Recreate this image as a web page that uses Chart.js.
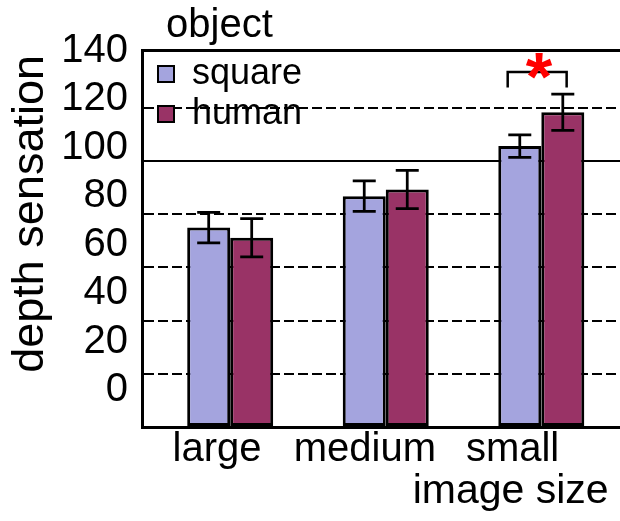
<!DOCTYPE html>
<html>
<head>
<meta charset="utf-8">
<title>depth sensation by image size</title>
<script src="https://cdn.jsdelivr.net/npm/chart.js@4/dist/chart.umd.min.js"></script>
<style>
  html, body { margin: 0; padding: 0; background: #ffffff; }
  canvas { display: block; }
</style>
</head>
<body>
<canvas id="chart" width="620" height="521"></canvas>
<script>
// ---- data -------------------------------------------------------------
const categories = ['large', 'medium', 'small'];
const legendHeading = 'object';
const squareMeans  = [74.9, 86.7, 105.5];
const squareErrors = [5.7, 5.7, 4.2];
const humanMeans   = [71.1, 89.2, 118.2];
const humanErrors  = [7.2, 7.2, 6.8];

// value-axis tick labels and the horizontal reference lines
const yTickLabels = [0, 20, 40, 60, 80, 100, 120, 140];
const gridValues  = [0, 20, 40, 60, 80, 100, 120];
const solidGridValue = 100;

// significance bracket over the "small" pair (axis units)
const significance = { from: 1.784, to: 2.163, top: 133.3, bottom: 127.5, markX: 1.985, markY: 135.6, mark: '*' };

// ---- styling ----------------------------------------------------------
const FONT = "'Liberation Sans', Arial, Helvetica, sans-serif";
const SQUARE_COLOR = '#a4a4de';
const HUMAN_COLOR = '#993366';

Chart.defaults.font.family = FONT;
Chart.defaults.color = '#000000';

const setTicks = values => axis => { axis.ticks = values.map(v => ({ value: v })); };
const categoryPositions = categories.map((_, i) => i);

// error bars drawn from each bar's mean and error through the value scale
const errorBars = {
  id: 'errorBars',
  afterDatasetsDraw(chart) {
    const { ctx } = chart;
    const yScale = chart.scales.y;
    const half = 11.5;
    ctx.save();
    ctx.strokeStyle = '#000000';
    ctx.lineWidth = 2.75;
    chart.data.datasets.forEach((ds, di) => {
      chart.getDatasetMeta(di).data.forEach((bar, i) => {
        const v = ds.data[i].y;
        const e = ds.errors[i];
        const yHi = yScale.getPixelForValue(v + e);
        const yLo = yScale.getPixelForValue(v - e);
        ctx.beginPath();
        ctx.moveTo(bar.x, yHi); ctx.lineTo(bar.x, yLo);
        ctx.moveTo(bar.x - half, yHi); ctx.lineTo(bar.x + half, yHi);
        ctx.moveTo(bar.x - half, yLo); ctx.lineTo(bar.x + half, yLo);
        ctx.stroke();
      });
    });
    ctx.restore();
  }
};

// bracket and red asterisk marking the significant difference
const significanceMarker = {
  id: 'significanceMarker',
  afterDatasetsDraw(chart) {
    const { ctx } = chart;
    const x = chart.scales.x, y = chart.scales.y;
    const s = significance;
    const x1 = x.getPixelForValue(s.from), x2 = x.getPixelForValue(s.to);
    const yTop = y.getPixelForValue(s.top), yBot = y.getPixelForValue(s.bottom);
    ctx.save();
    ctx.strokeStyle = '#000000';
    ctx.lineWidth = 2.5;
    ctx.beginPath();
    ctx.moveTo(x1, yBot); ctx.lineTo(x1, yTop); ctx.lineTo(x2, yTop); ctx.lineTo(x2, yBot);
    ctx.stroke();
    ctx.font = 'bold 68px ' + FONT;
    ctx.fillStyle = '#ff0000';
    ctx.textAlign = 'center';
    ctx.textBaseline = 'alphabetic';
    const m = ctx.measureText(s.mark);
    const cx = x.getPixelForValue(s.markX);
    const cy = y.getPixelForValue(s.markY);
    const baseline = cy + (m.actualBoundingBoxAscent - m.actualBoundingBoxDescent) / 2;
    ctx.fillText(s.mark, cx, baseline);
    ctx.restore();
  }
};

// legend sits inside the plot, slightly inset, with its heading above the frame;
// the value-axis title is nudged down a little from the frame's top edge
const legendFrame = {
  id: 'legendFrame',
  afterLayout(chart) {
    const lg = chart.legend;
    const area = chart.chartArea;
    if (lg) {
      lg.left = area.left + 12;
      lg.top = area.top + 2;
      lg.right = lg.left + lg.width;
      lg.bottom = lg.top + lg.height;
    }
    const yl = chart.scales.yl;
    if (yl) {
      yl.top += 5;
      yl.bottom += 5;
    }
  },
  afterDraw(chart) {
    const { ctx, chartArea } = chart;
    ctx.save();
    ctx.font = '40px ' + FONT;
    ctx.fillStyle = '#000000';
    ctx.textAlign = 'left';
    ctx.textBaseline = 'alphabetic';
    ctx.fillText(legendHeading, chartArea.left + 24, chartArea.top - 13);
    ctx.restore();
  }
};

new Chart(document.getElementById('chart'), {
  type: 'bar',
  data: {
    datasets: [
      {
        label: 'square',
        data: squareMeans.map((v, i) => ({ x: categoryPositions[i], y: v })),
        errors: squareErrors,
        backgroundColor: SQUARE_COLOR,
        borderColor: '#000000',
        borderWidth: 3,
        borderSkipped: false,
        xAxisID: 'x',
        yAxisID: 'y'
      },
      {
        label: 'human',
        data: humanMeans.map((v, i) => ({ x: categoryPositions[i], y: v })),
        errors: humanErrors,
        backgroundColor: HUMAN_COLOR,
        borderColor: '#000000',
        borderWidth: 3,
        borderSkipped: false,
        xAxisID: 'x',
        yAxisID: 'y'
      }
    ]
  },
  options: {
    responsive: false,
    animation: false,
    devicePixelRatio: 1,
    barPercentage: 1,
    categoryPercentage: 0.553,
    layout: { padding: { top: 50, left: 0, right: 0, bottom: 0 } },
    plugins: {
      tooltip: { enabled: false },
      title: { display: false },
      legend: {
        position: 'chartArea',
        align: 'start',
        labels: {
          font: { size: 36 },
          color: '#000000',
          boxWidth: 16,
          boxHeight: 16,
          padding: 4,
          generateLabels(chart) {
            return Chart.defaults.plugins.legend.labels.generateLabels(chart)
              .map(item => Object.assign(item, { lineWidth: 2, strokeStyle: '#000000' }));
          }
        }
      }
    },
    scales: {
      // positions of the bar groups
      x: {
        type: 'linear', position: 'bottom', min: -0.567, max: 2.506,
        offset: false, bounds: 'data',
        afterBuildTicks: setTicks(categoryPositions),
        ticks: { display: false },
        grid: { display: false, drawTicks: false },
        border: { display: true, color: '#000000', width: 3, z: 1 }
      },
      // category names and the axis title
      xl: {
        type: 'linear', position: 'bottom', weight: 1, min: -0.508, max: 2.727,
        offset: false, bounds: 'data',
        afterBuildTicks: setTicks(categoryPositions),
        afterFit(axis) { axis.height = 94; },
        ticks: {
          callback: v => categories[v],
          font: { size: 40, lineHeight: 1.1 },
          padding: 1, maxRotation: 0, minRotation: 0, autoSkip: false, color: '#000000'
        },
        grid: { display: false, drawTicks: false },
        border: { display: false },
        title: {
          display: true, text: 'image size ', align: 'end', color: '#000000',
          font: { size: 41, lineHeight: 1.1 }, padding: { top: 0, bottom: 6.5 }
        }
      },
      // top edge of the frame
      xt: {
        type: 'linear', position: 'top', min: 0, max: 1, offset: false,
        ticks: { display: false },
        grid: { display: false, drawTicks: false },
        border: { display: true, color: '#000000', width: 3, z: 1 }
      },
      // value scale of the bars with its reference lines
      y: {
        type: 'linear', position: 'left', min: 0, max: 141.6, bounds: 'data',
        afterBuildTicks: setTicks(gridValues),
        ticks: { display: false },
        grid: { color: '#000000', lineWidth: 2, drawTicks: false },
        border: {
          display: true, color: '#000000', width: 3, z: 1,
          dash: c => (c.tick && c.tick.value !== solidGridValue) ? [10, 4] : []
        }
      },
      // value labels and the axis title
      yl: {
        type: 'linear', position: 'left', weight: 1, min: -15.28, max: 140.41, bounds: 'data',
        afterBuildTicks: setTicks(yTickLabels),
        afterFit(axis) { axis.width = 142; },
        ticks: { callback: v => String(v), font: { size: 40 }, padding: 14, color: '#000000' },
        grid: { display: false, drawTicks: false },
        border: { display: false },
        title: {
          display: true, text: 'depth sensation', align: 'end', color: '#000000',
          font: { size: 45 }, padding: { top: 4, bottom: 0 }
        }
      }
    }
  },
  plugins: [errorBars, significanceMarker, legendFrame]
});
</script>
</body>
</html>
